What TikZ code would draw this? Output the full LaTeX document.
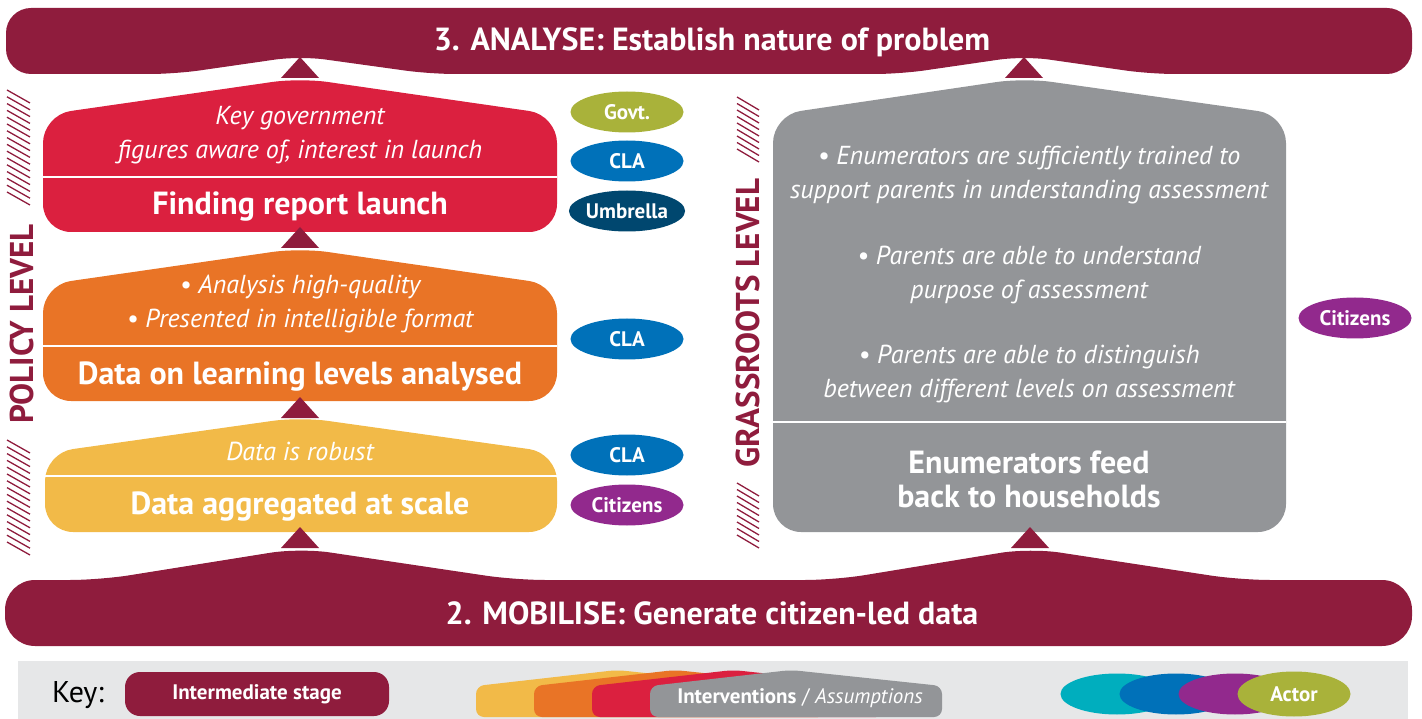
\documentclass[tikz,border=0pt]{standalone}
\usepackage{fontspec}
\setmainfont{PT Sans}
\usetikzlibrary{shapes.geometric}

\definecolor{banner}{HTML}{8F1C3D}
\definecolor{redbox}{HTML}{DB203F}
\definecolor{orangebox}{HTML}{E97426}
\definecolor{yellowbox}{HTML}{F2BA48}
\definecolor{graybox}{HTML}{939598}
\definecolor{olive}{HTML}{A9B23A}
\definecolor{clablue}{HTML}{0071B9}
\definecolor{navy}{HTML}{00476F}
\definecolor{purple}{HTML}{92298D}
\definecolor{teal}{HTML}{00AEBE}
\definecolor{keybg}{HTML}{E6E7E8}

% colour, left, right, peak x, peak y, shoulder y, bottom y
\newcommand{\housebox}[7]{%
  \fill[#1, rounded corners=28] (#2,#7) -- (#2,#6) -- (#4,#5) -- (#3,#6) -- (#3,#7) -- cycle;}
% small arrow tip pointing up: x, apex y
\newcommand{\uptip}[2]{%
  \fill[banner] (#1-19,#2+21) -- (#1,#2) -- (#1+19,#2+21) -- cycle;}

\begin{document}
\begin{tikzpicture}[x=1pt, y=-1pt,
  stage/.style={text=white, font=\bfseries\fontsize{32}{34}\selectfont},
  heading/.style={text=white, font=\bfseries\fontsize{32}{34}\selectfont},
  assume/.style={text=white, align=center, font=\itshape\fontsize{26}{34}\selectfont},
  actor/.style={ellipse, fill=#1, minimum width=113, minimum height=41, inner sep=0,
    text=white, font=\bfseries\fontsize{21}{24}\selectfont},
  level/.style={rotate=90, text=banner, font=\bfseries\fontsize{33}{36}\selectfont},
  hatch/.style={banner, line width=1.3},
  divider/.style={white, line width=2}]
  \useasboundingbox (0,0) rectangle (1422,719);

  % intermediate stages
  \fill[banner, rounded corners=25] (6,8) -- (1412,8) -- (1412,74) -- (1150,74) -- (1024,56)
    -- (900,74) -- (430,74) -- (300,56) -- (175,74) -- (6,74) -- cycle;
  \fill[banner, rounded corners=30] (5,646) -- (5,580) -- (100,580) -- (300,548) -- (515,580)
    -- (835,580) -- (1030,548) -- (1240,580) -- (1412,580) -- (1412,646) -- cycle;

  % interventions
  \housebox{redbox}{43}{557}{300}{78}{115}{232}
  \housebox{orangebox}{43}{557}{300}{248}{285}{401}
  \housebox{yellowbox}{45}{557}{300}{417}{453}{532}
  \housebox{graybox}{773}{1286}{1024}{78}{115}{532}
  \draw[divider] (43,177) -- (557,177);
  \draw[divider] (43,346) -- (557,346);
  \draw[divider] (45,476) -- (557,476);
  \draw[divider] (773,422) -- (1286,422);

  \uptip{300}{57}
  \uptip{300}{227}
  \uptip{300}{397}
  \uptip{300}{527}
  \uptip{1024}{57}
  \uptip{1030}{527}

  \node[heading] (analyse) at (712,42) {3. ANALYSE: Establish nature of problem};
  \node[heading] (mobilise) at (712,613) {2. MOBILISE: Generate citizen-led data};

  \node[assume] (launchA) at (300,135) {Key government\\figures aware of, interest in launch};
  \node[stage] (launch) at (300,207) {Finding report launch};
  \node[assume] (analysedA) at (300,304) {• Analysis high-quality\\• Presented in intelligible format};
  \node[stage] (analysed) at (300,377) {Data on learning levels analysed};
  \node[assume] (scaleA) at (300,451) {Data is robust};
  \node[stage] (scale) at (300,507) {Data aggregated at scale};

  \node[assume] (feedA1) at (1029,175) {• Enumerators are sufficiently trained to\\support parents in understanding assessment};
  \node[assume] (feedA2) at (1029,275) {• Parents are able to understand\\purpose of assessment};
  \node[assume] (feedA3) at (1029,374) {• Parents are able to distinguish\\between different levels on assessment};
  \node[stage, align=center] (feed) at (1029,479) {Enumerators feed\\back to households};

  % actors
  \node[actor=olive] (govt) at (627,112) {Govt.};
  \node[actor=clablue] (cla1) at (627,161) {CLA};
  \node[actor=navy] (umbrella) at (627,211) {Umbrella};
  \node[actor=clablue] (cla2) at (627,339) {CLA};
  \node[actor=clablue] (cla3) at (627,455) {CLA};
  \node[actor=purple] (citizens1) at (627,505) {Citizens};
  \node[actor=purple] (citizens2) at (1355,318) {Citizens};

  % levels
  \node[level] (policy) at (22,324) {POLICY LEVEL};
  \node[level] (grassroots) at (748,323) {GRASSROOTS LEVEL};
  \foreach \i in {0,...,15} \draw[hatch] (7,90+6.8*\i) -- (30,103+6.8*\i);
  \foreach \i in {0,...,15} \draw[hatch] (7,440+6.8*\i) -- (30,453+6.8*\i);
  \foreach \i in {0,...,8} \draw[hatch] (737,97+6.5*\i) -- (759,110+6.5*\i);
  \foreach \i in {0,...,8} \draw[hatch] (737,483+6.5*\i) -- (759,496+6.5*\i);

  % key
  \fill[keybg] (18,661) rectangle (1408,719);
  \node[font=\fontsize{30}{34}\selectfont] (key) at (78,695) {Key:};
  \node[fill=banner, rounded corners=15, minimum width=264, minimum height=44, text=white,
    font=\bfseries\fontsize{21}{24}\selectfont] (stagekey) at (257,694) {Intermediate stage};
  \foreach \c [count=\j from 0] in {yellowbox,orangebox,redbox,graybox}
    \fill[\c, rounded corners=8] (476+58*\j,717) -- (476+58*\j,686) -- (617+58*\j,670)
      -- (768+58*\j,686) -- (768+58*\j,717) -- cycle;
  \node[text=white, font=\fontsize{21}{24}\selectfont] (intkey) at (800,698)
    {\textbf{Interventions} / \textit{Assumptions}};
  \foreach \c [count=\j from 0] in {teal,clablue,purple}
    \node[actor=\c] (actkey\j) at (1117+59*\j,694) {};
  \node[actor=olive, minimum height=45] (actorkey) at (1294,694) {Actor};
\end{tikzpicture}
\end{document}
